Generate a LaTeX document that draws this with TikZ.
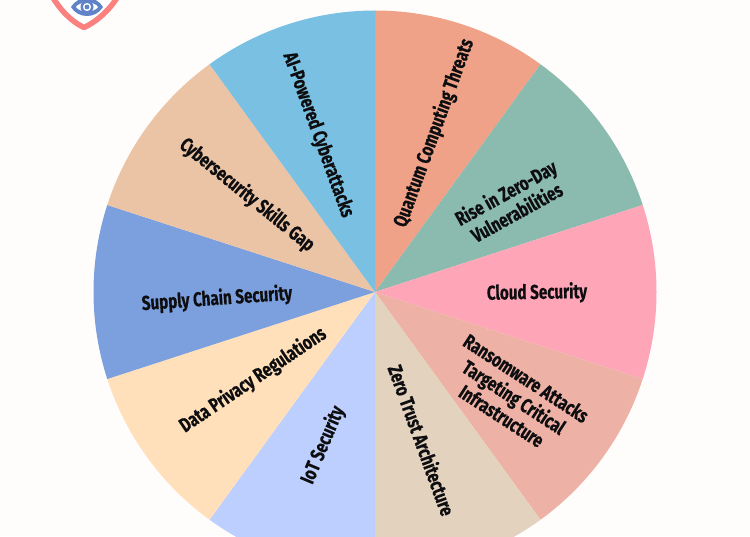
\documentclass[tikz,border=0pt]{standalone}
\usepackage{fontspec}
\setmainfont[FakeBold=0.5]{Fira Sans Bold}
\definecolor{bgc}{HTML}{FFFDFC}
\definecolor{w1}{HTML}{EFA287}
\definecolor{w2}{HTML}{8BBBAE}
\definecolor{w3}{HTML}{FFA5B8}
\definecolor{w4}{HTML}{EDB1A5}
\definecolor{w5}{HTML}{E3D2BD}
\definecolor{w6}{HTML}{BDCFFF}
\definecolor{w7}{HTML}{FFE0BA}
\definecolor{w8}{HTML}{7C9FDD}
\definecolor{w9}{HTML}{EBC3A5}
\definecolor{w10}{HTML}{79C0E3}
\definecolor{shieldc}{HTML}{FB8080}
\definecolor{eyec}{HTML}{5F82C8}
\definecolor{txt}{HTML}{0E0E10}
\tikzset{
  wedgelabel/.style={text=txt,font=\fontsize{20}{22.5}\selectfont,inner sep=0pt,align=center,transform shape,rotate=#1,xscale=0.76}
}
\newcommand{\wedgefill}[2]{\fill[#2] (375,244) -- ++(#1:281.5) arc[start angle=#1,end angle=#1-36,radius=281.5] -- cycle;}
\begin{document}
\begin{tikzpicture}[x=1pt,y=1pt]
\useasboundingbox (0,0) rectangle (750,536);
\clip (0,0) rectangle (750,536);
\fill[bgc] (0,0) rectangle (750,536);
% shield
\fill[white] (50,540) -- (84,506) .. controls (100,516) and (112,528) .. (120,540) -- cycle;
\draw[shieldc,line width=5.5pt,line join=round] (52,540) .. controls (60,526) and (72,514) .. (84,508.5) .. controls (96,514) and (110,526) .. (118,540);
% eye
\fill[eyec] (71,529) .. controls (78,517) and (96,517) .. (103,529) .. controls (96,541) and (78,541) .. (71,529) -- cycle;
\fill[white] (76,529) .. controls (80,523) and (94,523) .. (98,529) .. controls (94,535) and (80,535) .. (76,529) -- cycle;
\fill[eyec,even odd rule] (87,529) circle[radius=6.5] (87,529) circle[radius=4.2];
\fill[eyec] (87,529) circle[radius=2.4];
% wedges
\wedgefill{90}{w1}
\wedgefill{54}{w2}
\wedgefill{18}{w3}
\wedgefill{-18}{w4}
\wedgefill{-54}{w5}
\wedgefill{-90}{w6}
\wedgefill{-126}{w7}
\wedgefill{-162}{w8}
\wedgefill{-198}{w9}
\wedgefill{-234}{w10}
% labels
\node[wedgelabel=70] (quantum) at (434,403) {Quantum Computing Threats};
\node[wedgelabel=29] (zeroday) at (511,334) {Rise in Zero-Day\\Vulnerabilities};
\node[wedgelabel=1] (cloud) at (537,243) {Cloud Security};
\node[wedgelabel=-33] (ransom) at (514,139) {Ransomware Attacks\\Targeting Critical\\Infrastructure};
\node[wedgelabel=-70] (zerotrust) at (422,96) {Zero Trust Architecture};
\node[wedgelabel=67] (iot) at (323,91) {IoT Security};
\node[wedgelabel=34] (privacy) at (253,156) {Data Privacy Regulations};
\node[wedgelabel=4] (supply) at (217,237) {Supply Chain Security};
\node[wedgelabel=-39] (skills) at (247,341) {Cybersecurity Skills Gap};
\node[wedgelabel=-70] (ai) at (318,401) {AI-Powered Cyberattacks};
\end{tikzpicture}
\end{document}
